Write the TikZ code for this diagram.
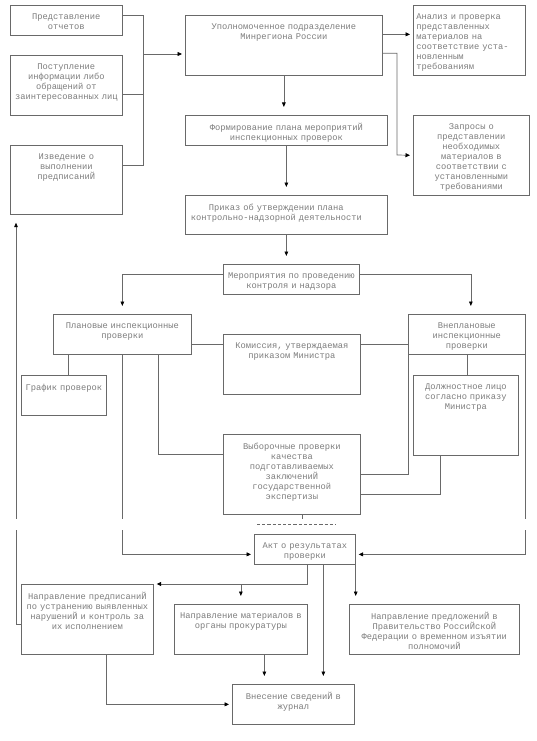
\documentclass[tikz,border=0pt]{standalone}
\usepackage{fontspec}
\newfontfamily\courfont{Liberation Mono}
\usetikzlibrary{arrows.meta}
\definecolor{linec}{RGB}{105,105,105}
\definecolor{textc}{RGB}{125,125,125}
\tikzset{
  box/.style={draw=linec, line width=0.7pt, inner sep=0pt, fill=white},
  txt/.style={inner sep=0pt, align=center, text=textc, font=\courfont\fontsize{8.75}{10}\selectfont},
  ln/.style={draw=linec, line width=0.7pt},
  harr/.style={ln, -{Triangle[length=4.5pt,width=4pt,black]}, shorten >=3pt},
  varr/.style={ln, -{Triangle[length=4.5pt,width=3.6pt,black]}, shorten >=8pt},
}
\newcommand\bx[7][]{%
  \node[box, anchor=north west, minimum width=#5pt, minimum height=#6pt] (#2) at (#3,#4) {};
  \node[txt, anchor=north, text width=#5pt, #1] (#2t) at ([yshift=-8.5pt]#2.north) {#7};
}
\begin{document}
\begin{tikzpicture}[x=1pt,y=-1pt]
\useasboundingbox[fill=white] (0,0) rectangle (536,741);

\bx{o1}{10}{5}{112}{30}{Представление\\отчетов}
\bx{o2}{10}{55}{112}{60}{Поступление\\информации либо\\обращений от\\заинтересованных лиц}
\bx{o3}{10}{145}{112}{69}{Изведение о\\выполнении\\предписаниЙ}
\bx{up}{185}{15}{197}{60}{Уполномоченное подразделение\\Минрегиона России}
\bx[align=left, text width=106pt]{an}{413}{5}{112}{70}{Анализ и проверка\\представленных\\материалов на\\соответствие уста-\\новленным\\требованиям}
\bx{zap}{413}{115}{116}{80}{Запросы о\\представлении\\необходимых\\материалов в\\соответствии с\\установленными\\требованиями}
\bx{form}{185}{115}{202}{30}{Формирование плана мероприятиЙ\\инспекционных проверок}
\bx[xshift=-10pt]{prik}{185}{195}{202}{39}{Приказ об утверждении плана\\контрольно-надзорной деятельности}
\bx{mer}{223}{264}{136}{30}{Мероприятия по проведению\\контроля и надзора}
\bx{plan}{53}{314}{138}{40}{Плановые инспекционные\\проверки}
\bx{vne}{408}{314}{117}{40}{Внеплановые\\инспекционные\\проверки}
\bx{kom}{223}{334}{137}{60}{Комиссия, утверждаемая\\приказом Министра}
\bx{graf}{21}{375}{85}{40}{График проверок}
\bx{dol}{413}{375}{105}{80}{Должностное лицо\\согласно приказу\\Министра}
\bx{vyb}{223}{434}{137}{80}{Выборочные проверки\\качества\\подготавливаемых\\заключениЙ\\государственной\\экспертизы}
\bx{akt}{254}{534}{101}{30}{Акт о результатах\\проверки}
\bx{np}{21}{584}{132}{70}{Направление предписаниЙ\\по устранению выявленных\\нарушениЙ и контроль за\\их исполнением}
\bx{nm}{174}{604}{133}{50}{Направление материалов в\\органы прокуратуры}
\bx{npr}{349}{604}{170}{50}{Направление предложениЙ в\\Правительство РоссиЙскоЙ\\Федерации о временном изъятии\\полномочиЙ}
\bx{vn}{232}{684}{122}{40}{Внесение сведениЙ в\\журнал}

% top-left bus
\coordinate (b1) at (143,54);
\coordinate (r1) at (397,155);
\draw[ln] ([yshift=5pt]o1.east) -| (b1);
\draw[ln] ([yshift=14.5pt]o3.east) -| (b1);
\draw[ln] ([yshift=-9pt]o2.east) -| (b1);
\draw[harr] (b1) -- (b1 -| up.west);
\draw[harr] ([yshift=11pt]up.east) -- ([yshift=11pt]up.east -| an.west);
\draw[harr] ([yshift=-8pt]up.east) -| (r1) -- (zap.west);

% main column
\draw[varr] (up.south) -- (up.south |- form.north);
\draw[varr] (form.south) -- (form.south |- prik.north);
\draw[varr] (prik.south) -- (prik.south |- mer.north);
\draw[varr] ([yshift=5pt]mer.west) -| (plan.north);
\draw[varr] ([yshift=5pt]mer.east) -| ([xshift=4pt]vne.north);

\draw[ln] ([yshift=-10pt]plan.east) -- ([yshift=20pt]kom.west);
\draw[ln] ([yshift=20pt]kom.east) -- ([yshift=20pt]kom.east -| vne.west);
\draw[ln] ([xshift=15pt]plan.south west) -- ([xshift=15pt]plan.south west |- graf.north);
\draw[harr] (plan.south) |- ([yshift=-5pt]akt.west);
\draw[ln] ([xshift=105pt]plan.south west) |- ([yshift=20pt]vyb.west);
\draw[ln] (vne.south west) |- (vyb.east);
\draw[ln] (vne.south) -- (vne.south |- dol.north);
\draw[ln] ([xshift=27pt]dol.south west) |- ([yshift=-20pt]vyb.east);
\draw[harr] (vne.south east) |- ([yshift=-5pt]akt.east);
\draw[ln] ([xshift=10pt]vyb.south) -- ++(0,5);

% bottom
\draw[varr] ([yshift=-5pt]np.west) -| ([xshift=6pt]o3.south west);
\draw[harr] ([xshift=2.5pt]akt.south) |- (np.north east);
\draw[varr] (nm.north |- np.north) -- (nm.north);
\draw[varr] ([xshift=18.5pt]akt.south) -- ([xshift=18.5pt]akt.south |- vn.north);
\draw[varr] (akt.south east) -- (akt.south east |- npr.north);
\draw[varr] ([xshift=23.5pt]nm.south) -- ([xshift=23.5pt]nm.south |- vn.north);
\draw[harr] ([xshift=19pt]np.south) |- (vn.west);

% page-break gap and dashed separator
\fill[white] (0,518.5) rectangle (536,530);
\coordinate (d1) at (257,524);
\coordinate (d2) at (336,524);
\draw[ln, dash pattern=on 3.2pt off 2pt] (d1) -- (d2);
\end{tikzpicture}
\end{document}
